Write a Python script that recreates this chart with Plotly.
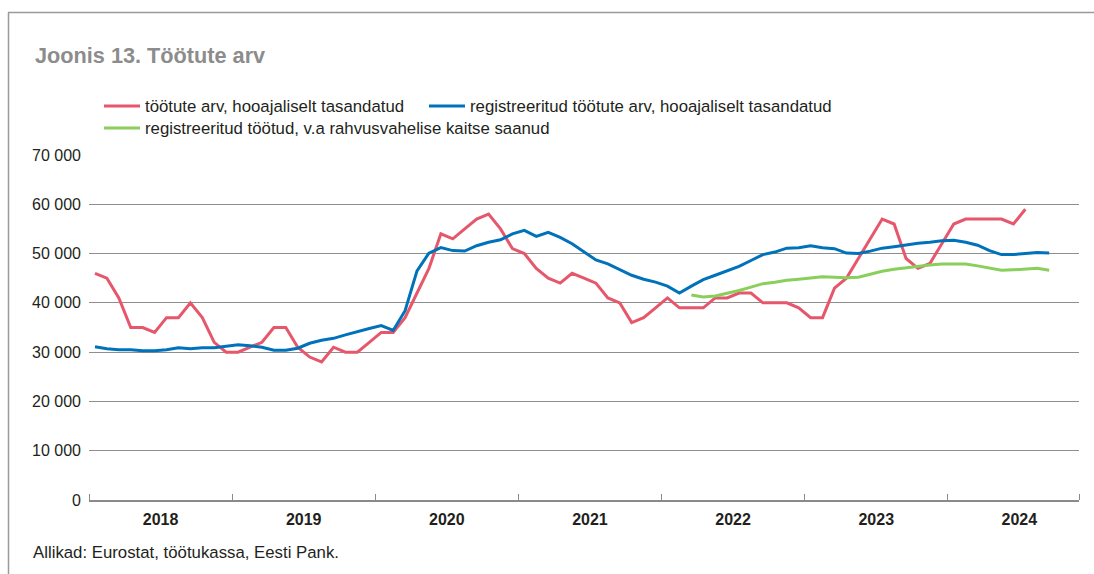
import numpy as np
import pandas as pd
import plotly.graph_objects as go

# Monthly categories Jan 2018 .. Nov 2024
months = pd.date_range("2018-01-01", periods=83, freq="MS")
year_labels = ["2018", "2019", "2020", "2021", "2022", "2023", "2024"]

# Töötute arv, hooajaliselt tasandatud (Jan 2018 .. Jul 2024)
unemployed_sa = [
    46000, 45000, 41000, 35000, 35000, 34000, 37000, 37000, 40000, 37000, 32000, 30000,
    30000, 31000, 32000, 35000, 35000, 31000, 29000, 28000, 31000, 30000, 30000, 32000,
    34000, 34000, 37000, 42000, 47000, 54000, 53000, 55000, 57000, 58000, 55000, 51000,
    50000, 47000, 45000, 44000, 46000, 45000, 44000, 41000, 40000, 36000, 37000, 39000,
    41000, 39000, 39000, 39000, 41000, 41000, 42000, 42000, 40000, 40000, 40000, 39000,
    37000, 37000, 43000, 45000, 49000, 53000, 57000, 56000, 49000, 47000, 48000, 52000,
    56000, 57000, 57000, 57000, 57000, 56000, 59000,
]

# Registreeritud töötute arv, hooajaliselt tasandatud (Jan 2018 .. Sep 2024)
registered_sa = [
    31100, 30700, 30500, 30500, 30300, 30300, 30500, 30900, 30700, 30900, 30900, 31200,
    31500, 31300, 31000, 30400, 30400, 30800, 31800, 32400, 32800, 33500, 34200, 34800,
    35400, 34400, 38400, 46500, 50100, 51200, 50600, 50500, 51600, 52300, 52800, 54000,
    54700, 53500, 54300, 53300, 52000, 50300, 48700, 47900, 46700, 45600, 44800, 44200,
    43400, 42000, 43400, 44700, 45600, 46500, 47400, 48600, 49800, 50300, 51100, 51200,
    51600, 51200, 51000, 50100, 50000, 50500, 51100, 51400, 51800, 52100, 52300, 52600,
    52700, 52300, 51700, 50600, 49800, 49800, 50000, 50200, 50100,
]

# Registreeritud töötud, v.a rahvusvahelise kaitse saanud (Mar 2022 .. Sep 2024)
registered_excl_start = 50  # month index of Mar 2022
registered_excl = [
    41600, 41200, 41400, 41900, 42500, 43200, 43900, 44200, 44600, 44800,
    45100, 45300, 45200, 45100, 45200, 45800, 46400, 46800, 47100, 47500, 47700, 47900,
    47900, 47900, 47500, 47100, 46600, 46700, 46800, 47000, 46600,
]

names = [
    "töötute arv, hooajaliselt tasandatud",
    "registreeritud töötute arv, hooajaliselt tasandatud",
    "registreeritud töötud, v.a rahvusvahelise kaitse saanud",
]
colors = ["#E6576C", "#0072BA", "#8ACE5C"]

idx = np.arange(len(months))
FONT = "Liberation Sans, Arial, Helvetica, sans-serif"
W, H = 1094, 574
L, R, T, B = 89, 15, 155, 74
PW, PH = W - L - R, H - T - B


def px(xp):
    return (xp - L) / PW


def py(yp):
    return (H - B - yp) / PH


fig = go.Figure()
fig.add_trace(go.Scatter(x=idx[:len(unemployed_sa)], y=unemployed_sa, name=names[0],
                         mode="lines", line=dict(color=colors[0], width=3), legend="legend"))
fig.add_trace(go.Scatter(x=idx[:len(registered_sa)], y=registered_sa, name=names[1],
                         mode="lines", line=dict(color=colors[1], width=3), legend="legend2"))
fig.add_trace(go.Scatter(x=idx[registered_excl_start:registered_excl_start + len(registered_excl)],
                         y=registered_excl, name=names[2],
                         mode="lines", line=dict(color=colors[2], width=3), legend="legend3"))

n_years = len(year_labels)
year_centers = [12 * i + 5.5 for i in range(n_years)]
year_bounds = [12 * i - 0.5 for i in range(n_years)] + [len(months) - 0.5]

leg_font = dict(family=FONT, size=16.8, color="#231F20")


def leg(xpix, ypix):
    return dict(orientation="h", xref="paper", yref="paper",
                x=px(xpix), xanchor="left", y=py(ypix), yanchor="middle",
                itemwidth=36, font=leg_font, bgcolor="rgba(0,0,0,0)", borderwidth=0)


fig.update_layout(
    width=W, height=H,
    margin=dict(l=L, r=R, t=T, b=B, pad=0, autoexpand=False),
    paper_bgcolor="white", plot_bgcolor="white",
    separators=", ",
    font=dict(family=FONT, size=16, color="#231F20"),
    title=dict(text="Joonis 13. Töötute arv", xref="container", x=35 / W, xanchor="left",
               yref="container", y=1 - 55 / H, yanchor="middle",
               font=dict(family=FONT, size=21.7, color="#8C8C8C", weight="bold")),
    showlegend=True,
    legend=leg(99, 106),
    legend2=leg(424, 106),
    legend3=leg(99, 128),
    xaxis=dict(range=[-0.5, len(months) - 0.5], tickmode="array",
               tickvals=year_centers, ticktext=year_labels, ticks="",
               tickfont=dict(size=16, weight="bold", color="#231F20"),
               ticklabelstandoff=4,
               showgrid=False, zeroline=False,
               showline=True, linecolor="#8A8A8A", linewidth=2,
               minor=dict(tickmode="array", tickvals=year_bounds, ticks="inside",
                          ticklen=6, tickwidth=1, tickcolor="#8A8A8A", showgrid=False)),
    yaxis=dict(range=[0, 70000], tickmode="array",
               tickvals=[0, 10000, 20000, 30000, 40000, 50000, 60000, 70000],
               tickformat=",d", showgrid=True, gridcolor="#8E8E8E", gridwidth=1,
               zeroline=False, showline=False, ticks="", ticklabelstandoff=7,
               tickfont=dict(size=16, color="#231F20")),
    annotations=[dict(text="Allikad: Eurostat, töötukassa, Eesti Pank.",
                      xref="paper", yref="paper",
                      x=px(31), y=py(552),
                      xanchor="left", yanchor="middle", showarrow=False,
                      font=dict(family=FONT, size=16.8, color="#231F20"))],
    shapes=[
        dict(type="line", xref="paper", yref="paper",
             x0=px(8), x1=px(W + 2), y0=py(12.5), y1=py(12.5),
             line=dict(color="#9A9A9A", width=1.5)),
        dict(type="line", xref="paper", yref="paper",
             x0=px(8.5), x1=px(8.5), y0=py(12.5), y1=py(H + 2),
             line=dict(color="#9A9A9A", width=1.5)),
    ],
)

fig.write_html("out.html", config={"displayModeBar": False},
               post_script="document.body.style.margin='0';")
